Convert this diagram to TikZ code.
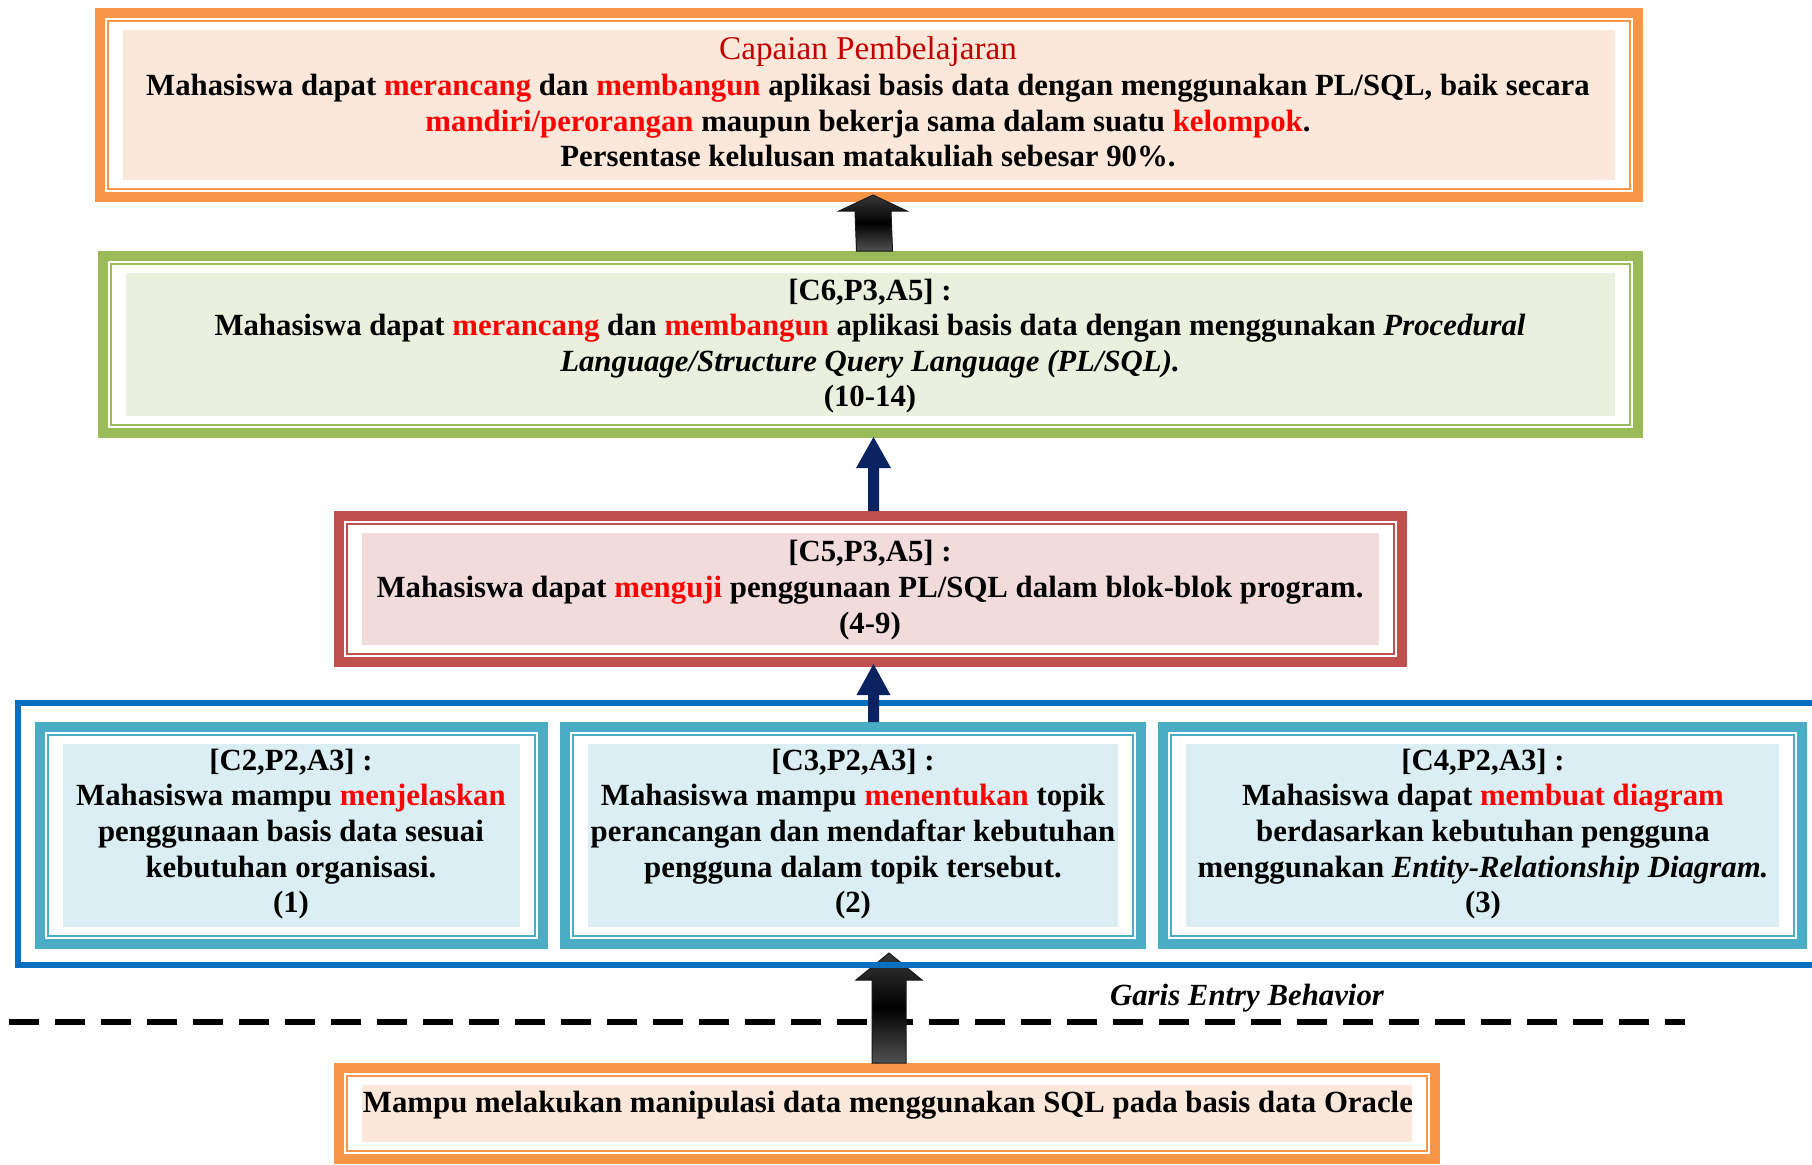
\documentclass[tikz,border=0pt]{standalone}
\usepackage{fontspec}
\setmainfont{Liberation Serif}
\usetikzlibrary{calc,fit}
\definecolor{oBorder}{HTML}{F79646}
\definecolor{oFill}{HTML}{FCE8DA}
\definecolor{gBorder}{HTML}{9BBB59}
\definecolor{gFill}{HTML}{EAF0DD}
\definecolor{rBorder}{HTML}{C0504D}
\definecolor{rFill}{HTML}{F2DCDB}
\definecolor{tBorder}{HTML}{4BACC6}
\definecolor{tFill}{HTML}{DAEEF3}
\definecolor{bBorder}{HTML}{0A6FC0}
\definecolor{navy}{HTML}{0B2461}
\definecolor{kred}{HTML}{FF0000}
\definecolor{dred}{HTML}{C00000}
\newcommand\redw[1]{\textcolor{kred}{#1}}
\newcommand\wbox[5]{%
  \node[wordframe, draw=#2, fit={#4 #5}] (#1) {};
  \draw[#2, line width=1pt] ([shift={(8,8)}]#1.north west) rectangle ([shift={(-8,-8)}]#1.south east);
  \fill[#3] ([shift={(23,17)}]#1.north west) rectangle ([shift={(-23,-17)}]#1.south east);
}
% #1 style, #2 tip, #3 base, #4 shaft half width, #5 head half width, #6 head length
\newcommand\blockarrow[6]{%
  \path[#1] (#2) -- ($(#2)+(#5,#6)$) -- ($(#2)+(#4,#6)$) -- ($(#3)+(#4,0)$)
    -- ($(#3)+(-#4,0)$) -- ($(#2)+(-#4,#6)$) -- ($(#2)+(-#5,#6)$) -- cycle;
}
\begin{document}
\begin{tikzpicture}[x=0.5pt,y=-0.5pt,
  wordframe/.style={line width=5pt, inner sep=0pt, outer sep=0pt},
  txt/.style={align=center, inner sep=0pt, font=\fontsize{15.4}{17.8}\selectfont\bfseries},
  grayarrow/.style={shading=axis, top color=black!78, bottom color=black!68, middle color=black, draw=black!90, line width=0.5pt},
  navyarrow/.style={fill=navy},
  dashline/.style={line width=3pt, dash pattern=on 15pt off 8pt}]
\useasboundingbox (0,0) rectangle (1812,1164);
\fill[white] (0,0) rectangle (1812,1164);
\clip (0,0) rectangle (1812,1164);

% boxes
\wbox{cp}{oBorder}{oFill}{(100,13)}{(1638,197)}
\wbox{green}{gBorder}{gFill}{(103,256)}{(1638,433)}
\wbox{red}{rBorder}{rFill}{(339,516)}{(1402,662)}
\wbox{tA}{tBorder}{tFill}{(40,727)}{(543,944)}
\wbox{tB}{tBorder}{tFill}{(565,727)}{(1141,944)}
\wbox{tC}{tBorder}{tFill}{(1163,727)}{(1802,944)}
\wbox{bot}{oBorder}{oFill}{(339,1068)}{(1435,1159)}

% texts
\node[txt] (cpText) at (868,102) {{\fontsize{16.6}{17.8}\selectfont\mdseries\color{dred}Capaian Pembelajaran}\\
Mahasiswa dapat \redw{merancang} dan \redw{membangun} aplikasi basis data dengan menggunakan PL/SQL, baik secara\\
\redw{mandiri/perorangan} maupun bekerja sama dalam suatu \redw{kelompok}.\\
Persentase kelulusan matakuliah sebesar 90\%.};

\node[txt] (greenText) at (870,346) {[C6,P3,A5] :\\
Mahasiswa dapat \redw{merancang} dan \redw{membangun} aplikasi basis data dengan menggunakan \textit{Procedural}\\
\textit{Language/Structure Query Language (PL/SQL).}\\
(10-14)};

\node[txt] (redText) at (870,590) {[C5,P3,A5] :\\
Mahasiswa dapat \redw{menguji} penggunaan PL/SQL dalam blok-blok program.\\
(4-9)};

\node[txt] (tAText) at (291,834) {[C2,P2,A3] :\\
Mahasiswa mampu \redw{menjelaskan}\\
penggunaan basis data sesuai\\
kebutuhan organisasi.\\
(1)};

\node[txt] (tBText) at (853,834) {[C3,P2,A3] :\\
Mahasiswa mampu \redw{menentukan} topik\\
perancangan dan mendaftar kebutuhan\\
pengguna dalam topik tersebut.\\
(2)};

\node[txt] (tCText) at (1483,834) {[C4,P2,A3] :\\
Mahasiswa dapat \redw{membuat diagram}\\
berdasarkan kebutuhan pengguna\\
menggunakan \textit{Entity-Relationship Diagram.}\\
(3)};

\node[txt] (botText) at (888,1105) {Mampu melakukan manipulasi data menggunakan SQL pada basis data Oracle};

% entry behaviour line
\coordinate (dashL) at (9,1022);
\coordinate (dashR) at (1685,1022);
\draw[dashline] (dashL) -- (dashR);
\node[txt, font=\fontsize{15.4}{17.8}\selectfont\bfseries\itshape] (garis) at (1247,998) {Garis Entry Behavior};

% arrows
\blockarrow{grayarrow}{$(cp.south)+(4,-2)$}{$(green.north)+(4,-5)$}{18}{34}{16}
\blockarrow{navyarrow}{$(green.south)+(3,4)$}{$(red.north)+(3,-5)$}{5.5}{17.5}{31}
\coordinate (a4base) at (bot.north);
\coordinate (a4tip) at ($(bot.north |- 0,965)+(2,-12)$);
\blockarrow{grayarrow}{a4tip}{$(a4base)+(2,-5)$}{17}{33}{27}

% outer blue frame (drawn over the entry arrow tip)
\node[draw=bBorder, line width=3pt, inner sep=0pt, outer sep=0pt, fit={(18,703) (1840,965)}] (blue) {};

\coordinate (a3base) at (red.south |- tB.north);
\blockarrow{navyarrow}{$(red.south)+(3,2)$}{$(a3base)+(3,-5)$}{5.5}{17}{31}
\end{tikzpicture}
\end{document}
